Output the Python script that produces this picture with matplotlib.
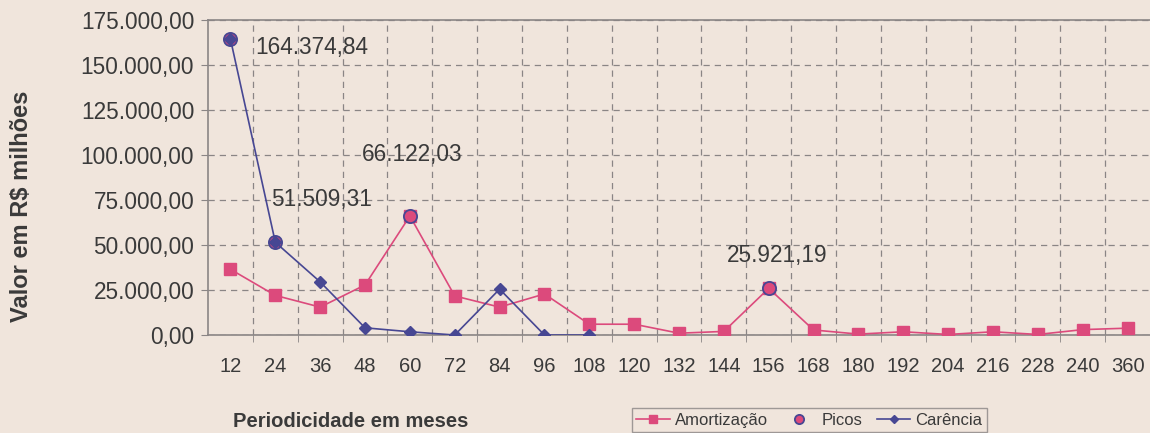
import matplotlib.pyplot as plt
import numpy as np
from matplotlib.ticker import FuncFormatter

# periodicidade (meses) e valores em R$ milhões
meses = ["12", "24", "36", "48", "60", "72", "84", "96", "108", "120", "132",
         "144", "156", "168", "180", "192", "204", "216", "228", "240", "360"]
amortizacao = [36500, 22000, 15500, 27800, 66122.03, 21700, 15500, 22800, 6000,
               6000, 1000, 2000, 25921.19, 2800, 500, 1800, 300, 1800, 300, 3000, 3800]
carencia = [164374.84, 51509.31, 29500, 4000, 1800, 0, 25500, 0, 0]
picos_idx = [0, 1, 4, 12]
picos_val = [164374.84, 51509.31, 66122.03, 25921.19]
picos_txt = ["164.374,84", "51.509,31", "66.122,03", "25.921,19"]

BG = "#f0e5dc"
PINK = "#dc4a7c"
NAVY = "#474793"
TXT = "#3a3a3a"
GRID = "#8a8585"

plt.rcParams['font.family'] = ['Liberation Sans', 'DejaVu Sans']

fig = plt.figure(figsize=(11.5, 4.33), dpi=100, facecolor=BG)
ax = fig.add_axes([0.1809, 0.2263, 0.8191, 0.7275], facecolor=BG)

x = np.arange(len(meses))
ax.plot(x, amortizacao, color=PINK, lw=1.2, marker="s", ms=8, mec=PINK, mfc=PINK,
        label="Amortização", zorder=3)
ax.plot(picos_idx, picos_val, ls="none", marker="o", ms=9.5, mfc=PINK, mec=NAVY,
        mew=1.3, label="Picos", zorder=4)
ax.plot(x[:len(carencia)], carencia, color=NAVY, lw=1.2, marker="D", ms=6.5,
        mfc=NAVY, mec=NAVY, label="Carência", zorder=5)

# posição dos rótulos relativa ao ponto (índice, valor)
offsets = [(0.56, -4400), (-0.085, 23500), (-1.08, 33900), (-0.93, 18500)]
for i, v, t, (dx, dy) in zip(picos_idx, picos_val, picos_txt, offsets):
    ax.text(i + dx, v + dy, t, fontsize=16.3, color=TXT, ha="left", va="center",
            zorder=6)

ax.set_xlim(-0.5, len(meses) - 0.5)
ax.set_ylim(0, 175000)
ax.set_yticks(np.arange(0, 175001, 25000))
ax.yaxis.set_major_formatter(FuncFormatter(
    lambda v, p: f"{v:,.2f}".replace(",", "X").replace(".", ",").replace("X", ".")))
ax.set_xticks(x)
ax.set_xticklabels(meses)
ax.set_xticks(np.arange(0.5, len(meses) - 0.5, 1), minor=True)

ax.tick_params(axis="x", which="major", length=0, pad=16, labelsize=14.5, colors=TXT)
ax.tick_params(axis="x", which="minor", length=5, direction="out", color=GRID)
ax.tick_params(axis="y", length=5, direction="out", color=GRID, labelsize=16.3,
               colors=TXT, pad=5)

ax.grid(True, axis="y", which="major", ls=(0, (5, 4)), color=GRID, lw=0.9)
ax.grid(True, axis="x", which="minor", ls=(0, (5, 4)), color=GRID, lw=0.9)
ax.set_axisbelow(True)

for s in ["left", "bottom", "top"]:
    ax.spines[s].set_color(GRID)
    ax.spines[s].set_linewidth(1.2)
ax.spines["right"].set_visible(False)

fig.text(0.019, 0.524, "Valor em R$ milhões", rotation=90, fontsize=17,
         fontweight="bold", color=TXT, ha="center", va="center")
fig.text(0.203, 0.026, "Periodicidade em meses", fontsize=14.5, fontweight="bold",
         color=TXT, ha="left", va="center")

leg = fig.legend(loc="center left", bbox_to_anchor=(0.5425, 0.03), ncol=3,
                 fontsize=12, frameon=True, fancybox=False, handlelength=2.0,
                 handletextpad=0.3, columnspacing=0.9, borderpad=0.25,
                 markerscale=0.7, labelcolor=TXT)
leg.get_frame().set_facecolor(BG)
leg.get_frame().set_edgecolor(GRID)
leg.get_frame().set_linewidth(1.0)

fig.savefig("out.png", dpi=100, facecolor=BG)
